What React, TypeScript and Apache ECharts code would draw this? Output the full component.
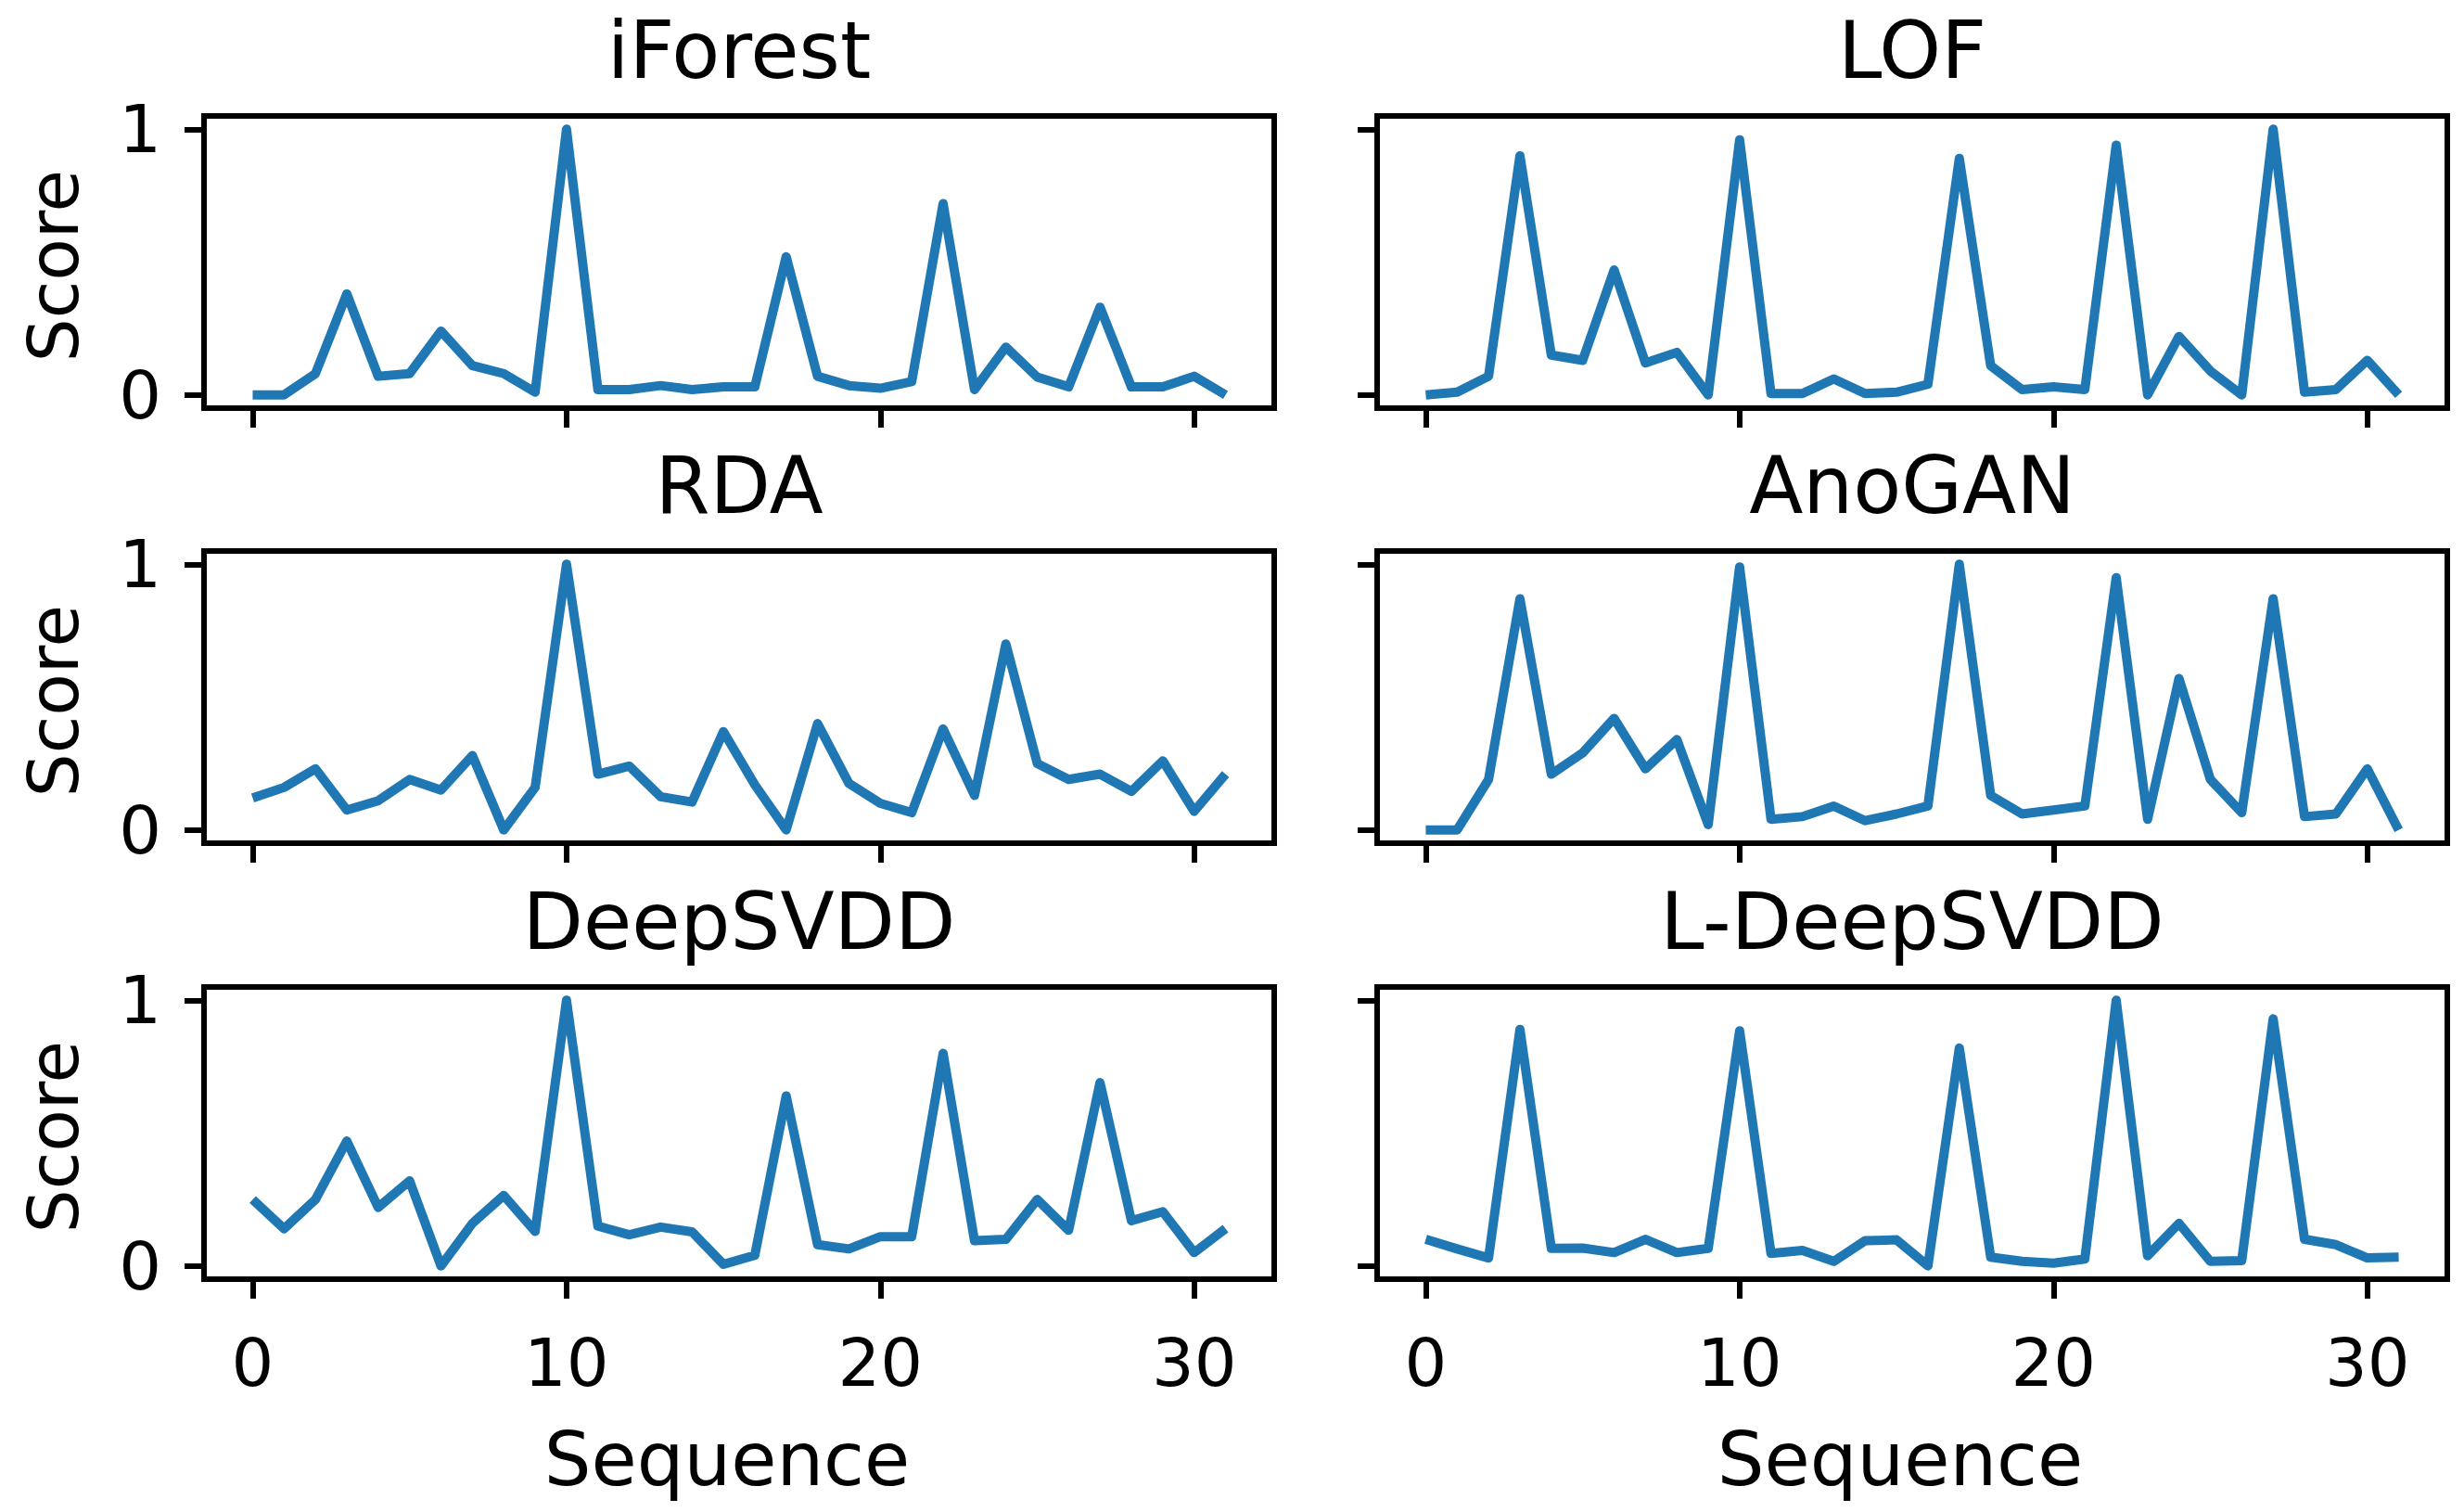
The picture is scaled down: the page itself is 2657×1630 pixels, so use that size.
import React, { useEffect, useRef } from "react";
import * as echarts from "echarts";

const sequence = [0, 1, 2, 3, 4, 5, 6, 7, 8, 9, 10, 11, 12, 13, 14, 15, 16, 17, 18, 19, 20, 21, 22, 23, 24, 25, 26, 27, 28, 29, 30, 31];
const titles = ["iForest", "LOF", "RDA", "AnoGAN", "DeepSVDD", "L-DeepSVDD"];
const iForest = [0.0, 0.0, 0.08, 0.38, 0.07, 0.08, 0.24, 0.11, 0.08, 0.01, 1.0, 0.02, 0.02, 0.035, 0.02, 0.03, 0.03, 0.52, 0.07, 0.035, 0.025, 0.05, 0.72, 0.02, 0.18, 0.067, 0.03, 0.33, 0.03, 0.03, 0.07, 0.0];
const lof = [0.0, 0.01, 0.07, 0.9, 0.15, 0.13, 0.47, 0.12, 0.16, 0.0, 0.96, 0.005, 0.005, 0.06, 0.005, 0.01, 0.04, 0.89, 0.11, 0.02, 0.03, 0.02, 0.94, 0.0, 0.22, 0.09, 0.0, 1.0, 0.01, 0.02, 0.13, 0.0];
const rda = [0.12, 0.16, 0.23, 0.075, 0.11, 0.19, 0.15, 0.28, 0.0, 0.16, 1.0, 0.21, 0.24, 0.125, 0.105, 0.37, 0.17, 0.0, 0.4, 0.175, 0.1, 0.065, 0.38, 0.13, 0.7, 0.25, 0.19, 0.21, 0.145, 0.26, 0.07, 0.21];
const anoGAN = [0.0, 0.0, 0.19, 0.87, 0.21, 0.29, 0.42, 0.23, 0.34, 0.02, 0.99, 0.04, 0.05, 0.09, 0.035, 0.06, 0.09, 1.0, 0.13, 0.06, 0.075, 0.09, 0.95, 0.04, 0.57, 0.19, 0.065, 0.87, 0.05, 0.06, 0.23, 0.0];
const deepSVDD = [0.25, 0.14, 0.25, 0.47, 0.22, 0.32, 0.0, 0.16, 0.265, 0.13, 1.0, 0.15, 0.117, 0.146, 0.128, 0.006, 0.04, 0.64, 0.08, 0.064, 0.11, 0.11, 0.8, 0.095, 0.1, 0.25, 0.134, 0.69, 0.17, 0.204, 0.05, 0.14];
const lDeepSVDD = [0.1, 0.064, 0.03, 0.89, 0.066, 0.067, 0.05, 0.1, 0.05, 0.066, 0.885, 0.047, 0.058, 0.017, 0.095, 0.098, 0.0, 0.82, 0.033, 0.017, 0.01, 0.026, 1.0, 0.038, 0.16, 0.017, 0.02, 0.93, 0.1, 0.08, 0.03, 0.033];
const xTicks = [0, 10, 20, 30];
const yTicks = [0, 1];
const yLabel = "Score";
const xLabel = "Sequence";

const allSeries = [iForest, lof, rda, anoGAN, deepSVDD, lDeepSVDD];

const FONT = "DejaVu Sans";
const LEFTS = [220, 1485];
const TOPS = [125, 594, 1064];
const W = 1154;
const H = 315;
const BORDER = 6;
const TICK_LEN = 21;
const LINE_COLOR = "#1f77b4";

export default function App() {
  const ref = useRef<HTMLDivElement>(null);
  useEffect(() => {
    if (!ref.current) return;
    const chart = echarts.init(ref.current, undefined, { renderer: "svg" });
    const grids: any[] = [];
    const xAxes: any[] = [];
    const yAxes: any[] = [];
    const series: any[] = [];
    const graphics: any[] = [];
    for (let i = 0; i < 6; i++) {
      const col = i % 2;
      const row = Math.floor(i / 2);
      const left = LEFTS[col];
      const top = TOPS[row];
      grids.push({
        left,
        top,
        width: W,
        height: H,
        show: true,
        borderColor: "#000",
        borderWidth: BORDER,
        backgroundColor: "transparent",
        containLabel: false,
        outerBoundsMode: "none",
      });
      xAxes.push({
        type: "value",
        gridIndex: i,
        position: "bottom",
        min: -1.55,
        max: 32.55,
        axisLine: { show: false, onZero: false },
        splitLine: { show: false },
        axisTick: {
          show: true,
          inside: false,
          length: TICK_LEN,
          customValues: xTicks,
          lineStyle: { color: "#000", width: BORDER },
        },
        axisLabel: {
          show: row === 2,
          customValues: xTicks,
          margin: 54,
          fontFamily: FONT,
          fontSize: 72,
          color: "#000",
        },
      });
      yAxes.push({
        type: "value",
        gridIndex: i,
        position: "left",
        min: -0.05,
        max: 1.05,
        axisLine: { show: false, onZero: false },
        splitLine: { show: false },
        axisTick: {
          show: true,
          inside: false,
          length: TICK_LEN,
          customValues: yTicks,
          lineStyle: { color: "#000", width: BORDER },
        },
        axisLabel: {
          show: col === 0,
          customValues: yTicks,
          margin: 46,
          fontFamily: FONT,
          fontSize: 72,
          color: "#000",
        },
      });
      series.push({
        type: "line",
        xAxisIndex: i,
        yAxisIndex: i,
        data: sequence.map((s, k) => [s, allSeries[i][k]]),
        showSymbol: false,
        symbol: "none",
        lineStyle: { color: LINE_COLOR, width: 10, join: "round", cap: "butt" },
        clip: false,
        z: 1,
      });
      graphics.push({
        type: "text",
        x: left + W / 2,
        y: top - 71,
        style: {
          text: titles[i],
          fontFamily: FONT,
          fontSize: 85,
          fill: "#000",
          textAlign: "center",
          textVerticalAlign: "middle",
        },
      });
      if (col === 0) {
        graphics.push({
          type: "text",
          x: 58,
          y: top + H / 2 + 4,
          rotation: Math.PI / 2,
          style: {
            text: yLabel,
            fontFamily: FONT,
            fontSize: 74,
            fill: "#000",
            textAlign: "center",
            textVerticalAlign: "middle",
          },
        });
      }
      if (row === 2) {
        graphics.push({
          type: "text",
          x: left + W / 2 - 13,
          y: 1573,
          style: {
            text: xLabel,
            fontFamily: FONT,
            fontSize: 80,
            fill: "#000",
            textAlign: "center",
            textVerticalAlign: "middle",
          },
        });
      }
    }
    chart.setOption({
      animation: false,
      backgroundColor: "#fff",
      textStyle: { fontFamily: FONT },
      grid: grids,
      xAxis: xAxes,
      yAxis: yAxes,
      series,
      graphic: graphics,
    });
    return () => chart.dispose();
  }, []);
  return (
    <div
      ref={ref}
      style={{ position: "fixed", left: 0, top: 0, width: 2657, height: 1630, background: "#fff" }}
    />
  );
}
